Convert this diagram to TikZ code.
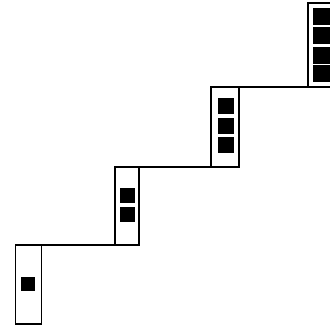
\documentclass[tikz,border=0pt]{standalone}
\usepackage{tikz}
\usetikzlibrary{positioning}

\begin{document}
\begin{tikzpicture}[
    x=1pt, y=-1pt,
    col/.style={draw, line width=1.5pt, inner sep=0pt, outer sep=0pt, minimum width=26pt},
    blk/.style={fill=black, inner sep=0pt},
    link/.style={line width=1.5pt},
    ]
\useasboundingbox (0,0) rectangle (330,329);

% the four columns, each one step higher
\node[col, minimum height=79pt] (c1) at (28.5,284.5) {};
\node[col, minimum height=78pt, minimum width=24pt] (c2) at (127,206) {};
\node[col, minimum height=80pt, minimum width=28pt] (c3) at (225,127) {};
\node[col, minimum height=84pt, minimum width=28pt] (c4) at (322,45) {};

% black blocks inside the columns
\node[blk, minimum size=14pt] (b1-1) at (28,284) {};
\foreach \y [count=\i] in {196,215}
  \node[blk, minimum size=15pt] (b2-\i) at (127.5,\y) {};
\foreach \y [count=\i] in {106,126,145}
  \node[blk, minimum size=16pt] (b3-\i) at (225.5,\y) {};
\foreach \y [count=\i] in {17,36,56,74}
  \node[blk, minimum size=17pt] (b4-\i) at (321,\y) {};

% steps between the columns
\draw[link] (c1.north east) -- (c2.south west);
\draw[link] (c2.north east) -- (c3.south west);
\draw[link] (c3.north east) -- (c4.south west);
\end{tikzpicture}
\end{document}
